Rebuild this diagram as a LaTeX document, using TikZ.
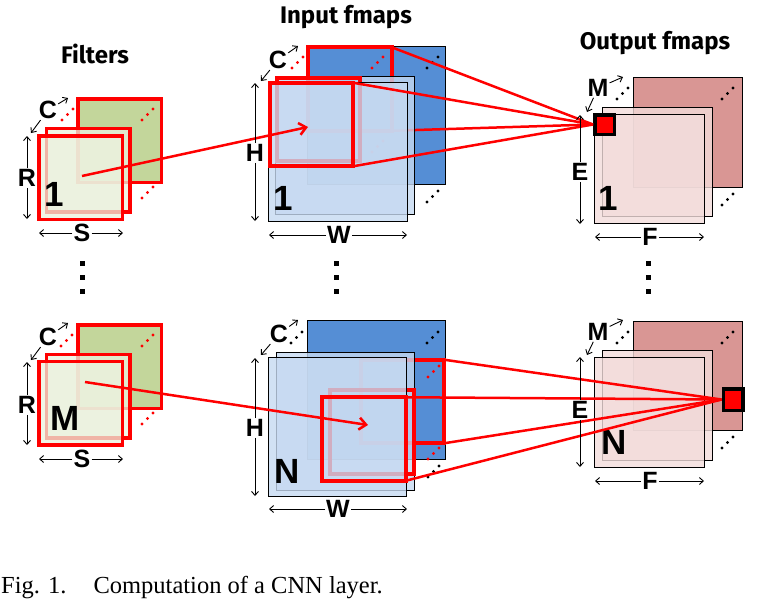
\documentclass[tikz,border=0pt]{standalone}
\usepackage{fontspec}
\setmainfont{Liberation Serif}
\setsansfont{Liberation Sans}
\newfontfamily\headfont{Fira Sans}
\usetikzlibrary{arrows.meta}
\definecolor{fltdark}{HTML}{C3D69B}
\definecolor{fltlight}{HTML}{EBF1DE}
\definecolor{inpdark}{HTML}{558ED5}
\definecolor{inplight}{HTML}{C6D9F1}
\definecolor{outdark}{HTML}{D99694}
\definecolor{outlight}{HTML}{F2DCDB}
\tikzset{
  sq/.style={rectangle, inner sep=0pt, outer sep=0pt, minimum size=#1},
  fltback/.style={sq=83.5pt, draw=red, line width=3.5pt, fill=fltdark},
  fltfront/.style={sq=83.5pt, draw=red, line width=3.5pt, fill=fltlight, fill opacity=0.75},
  inpback/.style={sq=138.5pt, draw=black, line width=1.3pt, fill=inpdark},
  inpfront/.style={sq=138.5pt, draw=black, line width=1.3pt, fill=inplight, fill opacity=0.8},
  win/.style={sq=83.5pt, draw=red, line width=4pt},
  outback/.style={sq=109.5pt, draw=black, line width=1.3pt, fill=outdark},
  outfront/.style={sq=109.5pt, draw=black, line width=1.3pt, fill=outlight, fill opacity=0.8},
  pixel/.style={rectangle, inner sep=0pt, minimum width=19.5pt, minimum height=19.5pt, draw=black, line width=3.5pt, fill=red},
  dimlbl/.style={font=\sffamily\bfseries\fontsize{25}{25}\selectfont, inner sep=1pt},
  bignum/.style={font=\sffamily\bfseries\fontsize{35}{35}\selectfont, inner sep=0pt},
  headtxt/.style={font=\headfont\bfseries\fontsize{24}{24}\selectfont, anchor=base, inner sep=0pt},
  dim/.style={line width=0.9pt, -{Straight Barb[length=4pt,width=7pt]}},
  conn/.style={red, line width=2.5pt},
}
\begin{document}
\begin{tikzpicture}[x=1pt, y=-1pt]
  \useasboundingbox (0,0) rectangle (769,598);

  % titles
  \node[headtxt] (tflt) at (95,63) {Filters};
  \node[headtxt] (tinp) at (346,23) {Input fmaps};
  \node[headtxt] (tout) at (655,49) {Output fmaps};

  % output fmaps
  \node[outback] (oB1) at (688,132.5) {};
  \node[outfront] (oM1) at (657.5,162) {};
  \node[outfront] (oF1) at (649.5,169) {};
  \node[pixel] (pix1) at (604.5,124.5) {};
  \node[bignum] (on1) at (608,198) {1};

  \node[outback] (oB2) at (688,376) {};
  \node[outfront] (oM2) at (657.5,405.5) {};
  \node[outfront] (oF2) at (649.5,412.5) {};
  \node[pixel, minimum height=21.5pt] (pix2) at (733,399.5) {};
  \node[bignum] (on2) at (614,442) {N};

  \foreach \x/\y in {617/99, 722/99, 722/205, 617/343, 722/343, 722/448}
    \foreach \k in {0,1,2} \fill ({\x+5.5*\k},{\y-5.5*\k}) circle (1.6pt);

  % filters
  \node[fltback] (fB1) at (119.5,140.5) {};
  \node[fltfront] (fM1) at (88,170) {};
  \node[fltfront] (fF1) at (80.5,177.5) {};
  \node[bignum] (fn1) at (54,194) {1};

  \node[fltback] (fB2) at (119.5,366.5) {};
  \node[fltfront] (fM2) at (88,396) {};
  \node[fltfront] (fF2) at (80.5,403) {};
  \node[bignum] (fn2) at (65,418) {M};

  \foreach \x/\y in {62/120, 142/120, 142/198, 61/346, 142/346, 142/424}
    \foreach \k in {0,1,2} \fill[red] ({\x+5.5*\k},{\y-5.5*\k}) circle (1.6pt);

  % input fmaps, first row
  \node[inpback] (iB1) at (376.5,115.5) {};
  \node[win] (wB1) at (350,89) {};
  \foreach \x/\y in {292/68, 372/68, 372/152}
    \foreach \k in {0,1,2} \fill[red] ({\x+5.5*\k},{\y-5.5*\k}) circle (1.6pt);
  \foreach \x/\y in {427/68, 427/202}
    \foreach \k in {0,1,2} \fill ({\x+5.5*\k},{\y-5.5*\k}) circle (1.6pt);
  \draw[conn] (wB1.north east) -- (pix1.west);
  \draw[conn] (wB1.south east) -- (pix1.west);
  \node[inpfront] (iM1) at (345,145.5) {};
  \node[win] (wM1) at (318.5,119.5) {};
  \node[inpfront] (iF1) at (338,152) {};
  \node[win] (wF1) at (311.5,124.5) {};
  \draw[conn] (wF1.north east) -- (pix1.west);
  \draw[conn] (wF1.south east) -- (pix1.west);
  \node[bignum] (in1) at (283,198) {1};

  % input fmaps, last row
  \node[inpback] (iB2) at (376.5,390) {};
  \node[win] (wB2) at (402.5,401.5) {};
  \foreach \x/\y in {291/343, 427/343, 428/477}
    \foreach \k in {0,1,2} \fill ({\x+5.5*\k},{\y-5.5*\k}) circle (1.6pt);
  \foreach \x/\y in {428/377, 428/459}
    \foreach \k in {0,1,2} \fill[red] ({\x+5.5*\k},{\y-5.5*\k}) circle (1.6pt);
  \node[inpfront] (iM2) at (345.5,421.5) {};
  \node[win] (wM2) at (372,432) {};
  \node[inpfront] (iF2) at (337.5,427) {};
  \node[win] (wF2) at (364,439) {};
  \node[bignum] (in2) at (287,471) {N};
  \draw[conn] (wB2.north east) -- (pix2.west);
  \draw[conn] (wB2.south east) -- (pix2.west);
  \draw[conn] (wF2.north east) -- (pix2.west);
  \draw[conn] (wF2.south east) -- (pix2.west);

  % filter to input window
  \coordinate (fc1) at (82,176);
  \coordinate (ic1) at (308,127);
  \coordinate (fc2) at (85,382);
  \coordinate (ic2) at (368,425);
  \draw[conn, -{Straight Barb[length=7pt,width=12pt]}] (fc1) -- (ic1);
  \draw[conn, -{Straight Barb[length=7pt,width=12pt]}] (fc2) -- (ic2);

  % dimensions
  \foreach \nm/\txt/\x/\y/\ax/\ay/\bx/\by in {
      fC1/C/48/110/68/98/31/133, fR1/R/27/178/27/136/27/219, fS1/S/82/233/39/233/123/233,
      fC2/C/48/337/68/323/31/360, fR2/R/27/405/27/362/27/445, fS2/S/82/459/39/459/123/459,
      iC1/C/278/60/298/46/261/81, iH1/H/255/153/255/83/255/221, iW1/W/339/235/269/235/407/235,
      iC2/C/279/334/298/320/261/355, iH2/H/255/428/255/358/255/496, iW2/W/338/509/269/509/407/509,
      oM1l/M/598/88/623/77/587/112, oE1/E/580/172/580/115/580/224, oF1l/F/650/237/595/237/704/237,
      oM2l/M/598/332/623/320/587/355, oE2/E/580/410/580/357/580/467, oF2l/F/650/481/595/481/704/481}{
    \node[dimlbl] (\nm) at (\x,\y) {\txt};
    \coordinate (\nm-a) at (\ax,\ay);
    \coordinate (\nm-b) at (\bx,\by);
    \draw[dim] (\nm) -- (\nm-a);
    \draw[dim] (\nm) -- (\nm-b);
  }

  % vertical dots
  \foreach \x in {82,336,648}
    \foreach \y in {263,277,291} \fill (\x-2.5,\y-2.5) rectangle (\x+2.5,\y+2.5);

  \node[anchor=base west, inner sep=0pt, font=\fontsize{24.5}{24.5}\selectfont] (cap) at (1,593)
    {Fig. 1.\hspace{27pt}Computation of a CNN layer.};
\end{tikzpicture}
\end{document}
